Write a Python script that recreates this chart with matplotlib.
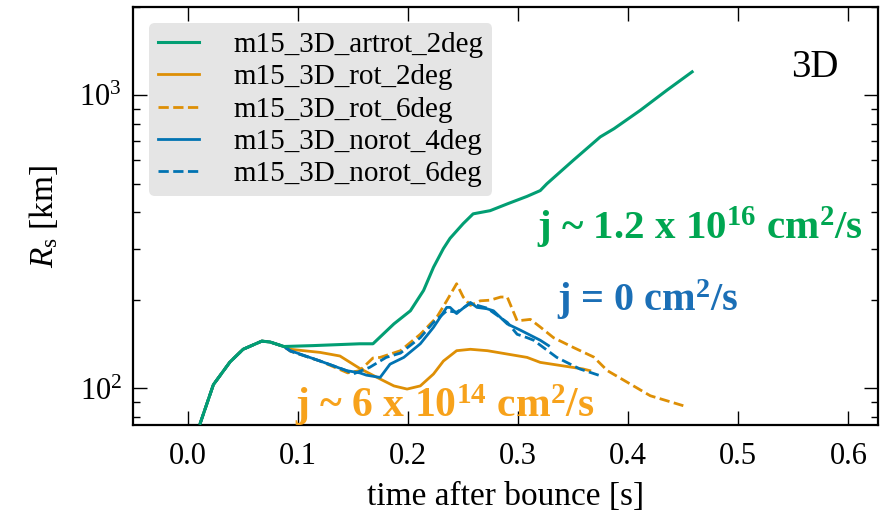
import numpy as np
import matplotlib
matplotlib.use('Agg')
import matplotlib.pyplot as plt

plt.rcParams['font.family'] = ['Liberation Serif', 'DejaVu Serif']
plt.rcParams['mathtext.fontset'] = 'custom'
plt.rcParams['mathtext.rm'] = 'Liberation Serif'
plt.rcParams['mathtext.it'] = 'Liberation Serif:italic'
plt.rcParams['mathtext.bf'] = 'Liberation Serif:bold'

# Data
t_early = [0.011, 0.023, 0.038, 0.050, 0.067, 0.0745, 0.087]
r_early = [76, 103, 123, 136, 145, 144, 139]

t_artrot = t_early + [0.114, 0.156, 0.168, 0.187, 0.202, 0.214, 0.223, 0.232, 0.238,
                      0.25, 0.259, 0.2745, 0.29, 0.308, 0.32, 0.326, 0.35, 0.3745,
                      0.387, 0.411, 0.435, 0.458]
r_artrot = r_early + [140, 142, 142, 166, 184, 216, 259, 300, 325,
                      365, 394, 404, 426, 452, 473, 499, 600, 721,
                      769, 889, 1040, 1202]

t_rot2 = t_early + [0.093, 0.12, 0.138, 0.156, 0.1745, 0.187, 0.199, 0.211, 0.223,
                    0.232, 0.244, 0.2565, 0.272, 0.29, 0.308, 0.32, 0.359, 0.365]
r_rot2 = r_early + [136, 132.7, 129, 117, 107.7, 102, 99.5, 102, 112,
                    124, 134.5, 136, 134.5, 131, 127.6, 122.7, 116.5, 115]

t_rot6 = t_early + [0.093, 0.12, 0.145, 0.156, 0.168, 0.1745, 0.193, 0.211, 0.226,
                    0.235, 0.244, 0.25, 0.2565, 0.2655, 0.2745, 0.284, 0.29, 0.299,
                    0.311, 0.32, 0.332, 0.35, 0.3685, 0.381, 0.399, 0.42, 0.45]
r_rot6 = r_early + [134, 124, 113, 115, 127, 127.6, 134.5, 153, 175,
                    199, 227.6, 205, 192, 199, 200, 205, 205, 170,
                    172, 162, 149, 138, 128, 115, 105, 94.4, 87.3]

t_norot4 = t_early + [0.093, 0.12, 0.144, 0.156, 0.162, 0.1745, 0.1835, 0.196, 0.211,
                      0.223, 0.235, 0.238, 0.244, 0.247, 0.2565, 0.2625, 0.2715,
                      0.2775, 0.29, 0.302, 0.32, 0.3275]
r_norot4 = r_early + [134.5, 124, 115, 113, 111, 109, 121, 127.6, 142,
                      161.6, 189, 189, 180, 184, 196.5, 189, 187,
                      184, 166, 158, 146, 140]

t_norot6 = t_early + [0.093, 0.12, 0.144, 0.15, 0.165, 0.18, 0.193, 0.211, 0.223,
                      0.235, 0.244, 0.2565, 0.2715, 0.29, 0.299, 0.308, 0.314,
                      0.335, 0.356, 0.3745]
r_norot6 = r_early + [134, 124, 115, 112, 118, 127.6, 132, 149, 168,
                      184, 182, 195, 188, 168, 153, 149, 146,
                      127.6, 116.5, 110.5]

green = '#029e73'
orange = '#de8f05'
blue = '#0173b2'

fig = plt.figure(figsize=(8.87, 5.19), dpi=100)
ax = fig.add_axes([0.150, 0.181, 0.840, 0.8055])

ax.plot(t_artrot, r_artrot, color=green, lw=2.2, ls='-', label='m15_3D_artrot_2deg', zorder=5)
ax.plot(t_rot2, r_rot2, color=orange, lw=2.0, ls='-', label='m15_3D_rot_2deg')
ax.plot(t_rot6, r_rot6, color=orange, lw=2.0, ls='--', label='m15_3D_rot_6deg')
ax.plot(t_norot4, r_norot4, color=blue, lw=2.0, ls='-', label='m15_3D_norot_4deg')
ax.plot(t_norot6, r_norot6, color=blue, lw=2.0, ls='--', label='m15_3D_norot_6deg')

ax.set_yscale('log')
ax.set_xlim(-0.05, 0.627)
ax.set_ylim(75, 2000)
ax.set_xticks([0.0, 0.1, 0.2, 0.3, 0.4, 0.5, 0.6])
ax.set_xticklabels(['0.0', '0.1', '0.2', '0.3', '0.4', '0.5', '0.6'])
ax.tick_params(which='both', direction='in', top=True, right=True, labelsize=22)
ax.tick_params(which='major', length=10, width=1)
ax.tick_params(which='minor', length=5, width=1)
ax.tick_params(axis='x', pad=12)
ax.tick_params(axis='y', pad=8)
for s in ax.spines.values():
    s.set_linewidth(1.6)

ax.set_xlabel('time after bounce [s]', fontsize=24, labelpad=8)
ax.set_ylabel(r'$R_{\rm s}$ [km]', fontsize=24, labelpad=14)

leg = ax.legend(loc='upper left', fontsize=21, frameon=True, fancybox=True,
                handlelength=1.4, handletextpad=1.2, labelspacing=0.2,
                borderpad=0.3, borderaxespad=0.55)
leg.get_frame().set_facecolor('#e5e5e5')
leg.get_frame().set_edgecolor('none')
leg.get_frame().set_alpha(1)

ax.text(0.915, 0.855, '3D', transform=ax.transAxes, fontsize=28, ha='center', va='center')

ax.text(0.542, 0.471, r'j ~ 1.2 x 10$^{\mathbf{16}}$ cm$^{\mathbf{2}}$/s', transform=ax.transAxes,
        fontsize=29.5, fontweight='bold', color='#00a651', ha='left', va='center')
ax.text(0.569, 0.299, r'j = 0 cm$^{\mathbf{2}}$/s', transform=ax.transAxes,
        fontsize=29, fontweight='bold', color='#1b6fb6', ha='left', va='center')
ax.text(0.217, 0.048, r'j ~ 6 x 10$^{\mathbf{14}}$ cm$^{\mathbf{2}}$/s', transform=ax.transAxes,
        fontsize=30, fontweight='bold', color='#f7a21b', ha='left', va='center', zorder=6)

fig.savefig('out.png', dpi=100)
